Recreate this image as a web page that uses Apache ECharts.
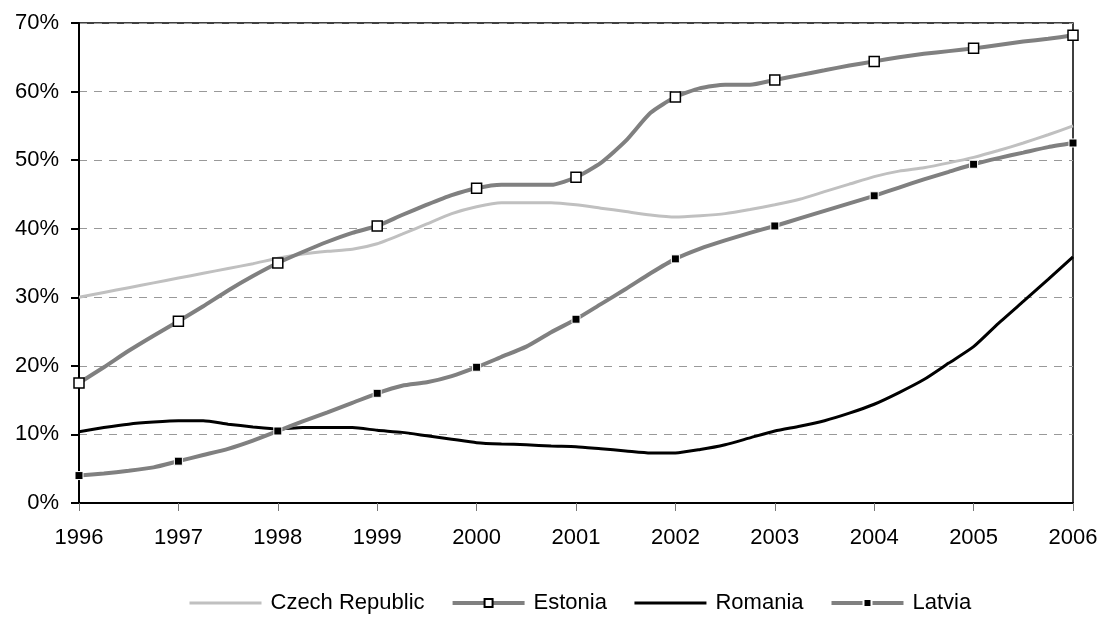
<!DOCTYPE html>
<html>
<head>
    <meta charset="UTF-8">
    <title>Share of population</title>
    <script type="text/javascript" src="https://cdn.jsdelivr.net/npm/echarts@6/dist/echarts.min.js"></script>
    <style type="text/css">
        html, body { margin: 0; padding: 0; background: #fff; }
        #chart { width: 1106px; height: 617px; }
    </style>
</head>
<body>
<div id="chart"></div>
<script type="text/javascript">
    // quarterly x positions, markers drawn on whole years
    var quarters = [1996, 1996.25, 1996.5, 1996.75, 1997, 1997.25, 1997.5, 1997.75,
        1998, 1998.25, 1998.5, 1998.75, 1999, 1999.25, 1999.5, 1999.75,
        2000, 2000.25, 2000.5, 2000.75, 2001, 2001.25, 2001.5, 2001.75,
        2002, 2002.25, 2002.5, 2002.75, 2003, 2003.25, 2003.5, 2003.75,
        2004, 2004.25, 2004.5, 2004.75, 2005, 2005.25, 2005.5, 2005.75, 2006];
    var yTicks = [0, 10, 20, 30, 40, 50, 60, 70];

    var czech = [30.0, 30.7, 31.4, 32.1, 32.8, 33.5, 34.2, 34.9,
        35.7, 36.3, 36.7, 37.0, 37.8, 39.2, 40.7, 42.2,
        43.2, 43.8, 43.8, 43.8, 43.5, 43.0, 42.5, 42.0,
        41.7, 41.9, 42.2, 42.8, 43.5, 44.3, 45.4, 46.5,
        47.6, 48.4, 48.9, 49.6, 50.4, 51.4, 52.5, 53.7, 55.0];
    var estonia = [17.5, 19.8, 22.2, 24.4, 26.5, 28.7, 31.0, 33.1,
        35.0, 36.6, 38.1, 39.4, 40.4, 42.0, 43.5, 44.9,
        45.9, 46.4, 46.4, 46.4, 47.5, 49.6, 52.8, 56.9,
        59.2, 60.5, 61.0, 61.0, 61.7, 62.4, 63.1, 63.8,
        64.4, 65.0, 65.5, 65.9, 66.3, 66.8, 67.3, 67.7, 68.2];
    var romania = [10.4, 11.0, 11.5, 11.8, 12.0, 12.0, 11.5, 11.1,
        10.8, 11.0, 11.0, 11.0, 10.6, 10.3, 9.8, 9.3,
        8.8, 8.6, 8.5, 8.3, 8.2, 7.9, 7.6, 7.3,
        7.3, 7.8, 8.5, 9.5, 10.5, 11.2, 12.0, 13.1,
        14.4, 16.1, 18.0, 20.4, 22.8, 26.2, 29.4, 32.6, 35.9];
    var latvia = [4.0, 4.3, 4.7, 5.2, 6.1, 7.0, 7.9, 9.1,
        10.5, 11.9, 13.2, 14.6, 16.0, 17.1, 17.6, 18.5,
        19.8, 21.3, 22.8, 24.9, 26.8, 29.0, 31.2, 33.5,
        35.6, 37.1, 38.3, 39.4, 40.4, 41.5, 42.6, 43.7,
        44.8, 46.0, 47.2, 48.3, 49.4, 50.3, 51.1, 51.9, 52.5];

    function pairs(vals, marked) {
        return quarters.map(function (x, i) {
            var item = {value: [x, vals[i]]};
            if (!marked || i % 4 !== 0) item.symbol = 'none';
            return item;
        });
    }

    var font = 'Liberation Sans, Arial, sans-serif';
    var chart = echarts.init(document.getElementById('chart'), null, {renderer: 'canvas'});
    chart.setOption({
        animation: false,
        textStyle: {fontFamily: font},
        grid: {left: 79, right: 33, top: 23, bottom: 114, show: true, borderColor: '#000', borderWidth: 1.5},
        legend: {
            top: 587,
            left: 183,
            itemWidth: 72,
            itemHeight: 10,
            itemGap: 26,
            textStyle: {fontSize: 22, color: '#000', fontFamily: font, padding: [0, 0, 0, 4]},
            data: [
                {name: 'Czech Republic', itemStyle: {opacity: 0}, lineStyle: {width: 3}},
                {name: 'Estonia', lineStyle: {width: 4}},
                {name: 'Romania', itemStyle: {opacity: 0}, lineStyle: {width: 3}},
                {name: 'Latvia', lineStyle: {width: 4}}
            ]
        },
        xAxis: {
            type: 'value',
            min: 1996,
            max: 2006,
            interval: 1,
            axisLine: {lineStyle: {color: '#000', width: 2}},
            axisTick: {length: 8, lineStyle: {color: '#777', width: 1}},
            splitLine: {show: false},
            axisLabel: {
                fontSize: 22, color: '#000', margin: 24,
                formatter: function (v) { return String(v); }
            }
        },
        yAxis: {
            type: 'value',
            min: yTicks[0],
            max: yTicks[yTicks.length - 1],
            interval: 10,
            axisLine: {show: true, lineStyle: {color: '#000', width: 2}},
            axisTick: {show: true, length: 8, lineStyle: {color: '#000', width: 2}},
            splitLine: {lineStyle: {color: '#999', width: 1, type: [8, 7]}},
            axisLabel: {fontSize: 22, color: '#000', margin: 20, formatter: '{value}%'}
        },
        series: [
            {
                name: 'Czech Republic',
                type: 'line',
                data: pairs(czech, false),
                symbol: 'none',
                smooth: 0.2,
                lineStyle: {color: '#c0c0c0', width: 3},
                itemStyle: {color: '#c0c0c0'}
            },
            {
                name: 'Estonia',
                type: 'line',
                data: pairs(estonia, true),
                symbol: 'rect',
                symbolSize: 10,
                smooth: 0.2,
                lineStyle: {color: '#808080', width: 4},
                itemStyle: {color: '#fff', borderColor: '#000', borderWidth: 1.5},
                z: 3
            },
            {
                name: 'Romania',
                type: 'line',
                data: pairs(romania, false),
                symbol: 'none',
                smooth: 0.2,
                lineStyle: {color: '#000', width: 3},
                itemStyle: {color: '#000'}
            },
            {
                name: 'Latvia',
                type: 'line',
                data: pairs(latvia, true),
                symbol: 'rect',
                symbolSize: 8,
                smooth: 0.2,
                lineStyle: {color: '#808080', width: 4},
                itemStyle: {color: '#000', borderColor: '#fff', borderWidth: 1},
                z: 3
            }
        ]
    });
</script>
</body>
</html>
